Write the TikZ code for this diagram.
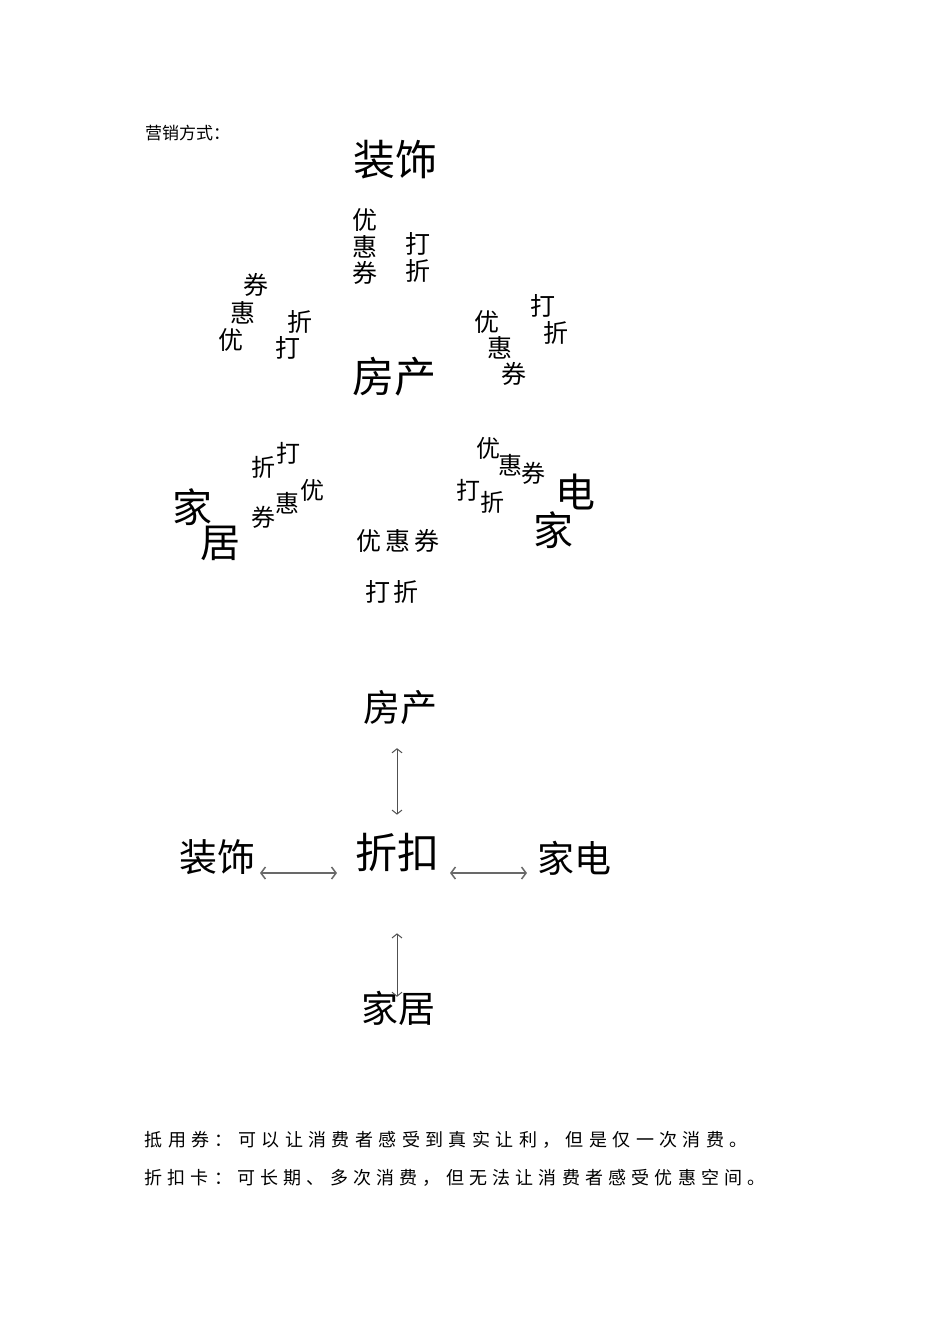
\documentclass[tikz,border=0pt]{standalone}
\usepackage{fontspec}
\usetikzlibrary{arrows.meta}
\newfontfamily\cjk{Noto Sans CJK SC}
\definecolor{arrowgray}{RGB}{105,105,105}
\definecolor{varrowgray}{RGB}{80,80,80}
\makeatletter
\newcommand\spreadchars[2]{\def\my@w{#1}\my@spread#2\relax}
\def\my@spread#1{\ifx#1\relax\else\makebox[\my@w][c]{#1}\expandafter\my@spread\fi}
\makeatother
\newcommand\fsz[1]{\cjk\fontsize{#1}{#1}\selectfont}
\tikzset{
  tx/.style={inner sep=0pt, outer sep=0pt, text=black},
  huge42/.style={tx, font=\fsz{42}},
  big40/.style={tx, font=\fsz{40}},
  mid37/.style={tx, font=\fsz{37}},
  small25/.style={tx, font=\fsz{25}},
  small24/.style={tx, font=\fsz{24}},
  note/.style={tx, font=\fsz{18}, anchor=west},
  harrow/.style={draw=arrowgray, line width=1.5pt, {Straight Barb[length=4.5pt,width=12pt]}-{Straight Barb[length=4.5pt,width=12pt]}},
  varrow/.style={draw=varrowgray, line width=1pt, {Straight Barb[length=4pt,width=10pt]}-{Straight Barb[length=4pt,width=10pt]}}
}
\begin{document}
\begin{tikzpicture}[x=1pt,y=-1pt]
\fill[white] (0,0) rectangle (950,1344);
\useasboundingbox (0,0) rectangle (950,1344);

% title
\node[tx, font=\fsz{17}, anchor=west] (title) at (145,133) {营销方式：};

% first diagram
\node[huge42] (zs1) at (395,160) {装饰};
\node[huge42] (fc1) at (394,377) {房产};

\node[small25] (t1) at (365,220) {优};
\node[small25] (t2) at (365,247) {惠};
\node[small25] (t3) at (365,273) {券};
\node[small25] (t4) at (418,244) {打};
\node[small25] (t5) at (418,271) {折};

\node[small25] (l1) at (256,285) {券};
\node[small25] (l2) at (243,313) {惠};
\node[small25] (l3) at (231,340) {优};
\node[small25] (l4) at (300,322) {折};
\node[small25] (l5) at (288,348) {打};

\node[small25] (r1) at (543,306) {打};
\node[small25] (r2) at (556,333) {折};
\node[small25] (r3) at (487,322) {优};
\node[small25] (r4) at (500,348) {惠};
\node[small25] (r5) at (514,374) {券};

\node[small24] (m1) at (263,467) {折};
\node[small24] (m2) at (288,453) {打};
\node[small24] (m3) at (312,490) {优};
\node[small24] (m4) at (287,503) {惠};
\node[small24] (m5) at (263,517) {券};

\node[big40] (jja) at (192,507) {家};
\node[big40] (jjb) at (220,543) {居};

\node[small24] (n1) at (488,448) {优};
\node[small24] (n2) at (510,465) {惠};
\node[small24] (n3) at (533,473) {券};
\node[small24] (n4) at (468,490) {打};
\node[small24] (n5) at (492,502) {折};

\node[big40] (dian) at (575,492) {电};
\node[big40] (jia) at (553,530) {家};

\node[tx, font=\fsz{25}] (yhq) at (398,541) {\spreadchars{29pt}{优惠券}};
\node[tx, font=\fsz{25}] (dz) at (392,592) {\spreadchars{29pt}{打折}};

% second diagram
\node[mid37] (fc2) at (400,708) {房产};
\node[huge42] (zk) at (397,853) {折扣};
\node[tx, font=\fsz{38}] (zs2) at (217,857) {装饰};
\node[mid37] (jd) at (574,858) {家电};
\node[mid37] (jj2) at (398,1008) {家居};

\draw[varrow, shorten <=23pt, shorten >=19pt] (fc2.south -| zk.north) -- (zk.north);
\draw[varrow, shorten <=61pt, shorten >=-6pt] (zk.south) -- (zk.south |- jj2.north);
\draw[harrow, shorten <=5pt, shorten >=18pt] ([yshift=-16pt]zs2.east) -- ([yshift=-20pt]zk.west);
\draw[harrow, shorten <=11pt, shorten >=10pt] ([yshift=-20pt]zk.east) -- ([yshift=-15pt]jd.west);

% notes
\node[note] (note1) at (142,1140) {\spreadchars{23.4pt}{抵用券：可以让消费者感受到真实让利，但是仅一次消费。}};
\node[note] (note2) at (142,1178) {\spreadchars{23.2pt}{折扣卡：可长期、多次消费，但无法让消费者感受优惠空间。}};
\end{tikzpicture}
\end{document}
